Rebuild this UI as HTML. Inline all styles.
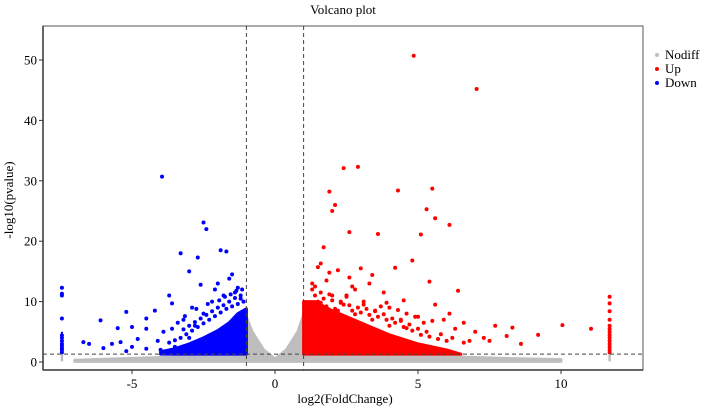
<!DOCTYPE html>
<html><head><meta charset="utf-8"><style>
body{margin:0;background:#fff;}
svg{display:block;font-family:"Liberation Serif",serif;}
</style></head><body>
<svg id="chart" width="708" height="408">
<text x="343" y="14" font-size="13" text-anchor="middle">Volcano plot</text>
<rect x="43" y="26" width="600" height="344" fill="none" stroke="#555" stroke-width="1"/>
<g id="clouds"></g><g id="pts"></g><g id="axes"></g>
<text x="345" y="403" font-size="13" text-anchor="middle">log2(FoldChange)</text>
<text transform="translate(13,200) rotate(-90)" font-size="13" text-anchor="middle">-log10(pvalue)</text>
<g>
<g><circle cx="657" cy="55" r="2" fill="#bebebe"/><text x="665" y="59" font-size="13">Nodiff</text></g>
<g><circle cx="657" cy="69" r="2" fill="#f00"/><text x="665" y="73" font-size="13">Up</text></g>
<g><circle cx="657" cy="83" r="2" fill="#00f"/><text x="665" y="87" font-size="13">Down</text></g>
</g>
</svg>
<script>
const xTicks=[-5,0,5,10];
const yTicks=[0,10,20,30,40,50];
const fcCut=[-1,1];
const pCut=1.3;
const grayCloud=[[-7,0.3],[-5,0.6],[-3,0.9],[-1.5,1.3],[-1.05,8],[-0.8,5],[-0.4,2],[0,0.5],[0.4,2],[0.8,5],[1.05,8.5],[1.5,1.3],[4,1.0],[6,0.9],[8,0.6],[10,0.4],[10,0.1],[0,0.1],[-7,0.1]];
const blueCloud=[[-4.0,1.3],[-1,1.3],[-1,8.8],[-1.3,8],[-1.6,6.5],[-2,5.2],[-2.5,4],[-3,3],[-3.5,2.2],[-4.0,1.7]];
const redCloud=[[1,1.3],[6.5,1.3],[6,2],[5,3],[4,4.5],[3,6.5],[2,8.5],[1.4,10],[1,10]];
const grayCol=[[-7.45,0.1],[-7.45,1.2],[11.7,0.1],[11.7,1.2]];
const upX=[4.85,7.05,2.4,2.9,5.5,4.3,1.9,2.1,2.0,5.3,5.6,6.1,2.6,5.1,3.6,1.7,1.5,1.6,2.2,3.0,4.2,4.8,3.4,6.4,5.4,10.05,11.05,8.3,7.7,9.2,8.1,7.0,6.6,6.1,5.6,4.5,3.8,2.8,1.8,2.5,3.3,1.4,2.0,4.0,5.9,7.3,6.8,5.2,1.3,1.6,2.3,2.7,3.1,3.5,4.6,5.0,6.3,7.5,8.6,3.9,4.4,2.6,1.9,
1.2,1.5,1.8,2.1,2.4,2.7,3.0,3.3,3.6,3.9,4.2,4.5,4.8,5.1,5.4,5.7,6.0,1.4,1.7,2.0,2.3,2.6,2.9,3.2,3.5,3.8,4.1,4.4,4.7,5.0,5.3,5.8,6.2,6.6,1.3,1.9,2.5,3.1,3.7,4.3,4.9,5.5,1.6,2.2,2.8,3.4,4.0,4.6];
const upY=[50.7,45.2,32.1,32.3,28.7,28.4,28.2,26,25,25.3,23.8,22.7,21.5,21.1,21.2,19,15.7,16.3,15.2,15.5,15.6,16.8,14.4,11.8,13.3,6.1,5.5,5.7,6,4.5,4.3,5,6.5,8,9.5,10.2,11.5,12,13.5,11,13,12.5,11,9,7,4,3.5,6.5,13,11.5,10,12.5,9.5,8.5,8,7.5,5.5,3.5,3,9.8,7,14,14.8,
9.5,10,9.2,8.8,9.5,8.5,8.2,7.8,7.5,7,6.5,5.8,5.2,4.5,4.2,3.8,3.5,11,10.5,10.2,9.8,9.4,9,8.8,8.4,7.9,7.2,6.8,6.2,5.5,5,4.6,4,3.2,12,11.2,10.8,10,9.2,8.6,7.5,6.8,9.8,8.5,7.9,7,6,5.6];
const downX=[-3.95,-2.5,-2.4,-3.3,-2.7,-1.9,-1.7,-3.0,-1.5,-2.0,-3.7,-4.2,-5.2,-6.1,-4.5,-3.6,-5.5,-5.0,-4.5,-6.7,-6.5,-5.7,-5.4,-5.0,-4.5,-4.0,-3.5,-6.0,-5.2,-3.0,-2.8,-2.2,-2.5,-1.8,-1.3,-1.6,-2.1,-1.4,-3.2,-3.9,-4.8,-2.9,-1.2,-2.6,-3.4,
-1.1,-1.3,-1.5,-1.7,-1.9,-2.1,-2.3,-2.5,-2.7,-2.9,-3.1,-3.3,-3.5,-3.7,-1.2,-1.4,-1.6,-1.8,-2.0,-2.2,-2.4,-2.6,-2.8,-3.0,-3.2,-1.15,-1.35,-1.55,-1.75,-1.95,-2.35,-2.75,-3.15,-3.6,-4.1];
const downY=[30.7,23.1,22,18,17.3,18.5,18.3,15,14.5,13,11,8.5,8.3,6.9,7.2,9.7,5.6,5.8,5.5,3.3,3,3,3.3,2.5,2.2,2,2.5,2.3,1.8,4,6,10,8,11,12.3,13.8,12,11.5,7,5,3.8,9,10.5,12.8,6.5,
10,9.6,9.2,8.8,8.2,7.6,7,6.4,5.8,5.2,4.6,4,3.6,3.2,11,10.6,10,9.4,9,8.4,7.8,7.2,6.6,6,5.4,12,11.8,11.2,10.8,10.2,9.6,8.8,7.6,5.5,3.5];
const upColX=11.7, upColY=[10.8,9.7,8.4,7,6,5.5,5,4.5,4,3.5,3,2.5,2,1.6];
const downColX=-7.45, downColY=[12.3,11.3,11,7.2,4.4,4,3.5,3,2.7,2.3,2,1.6];

const X=v=>275+v*28.6, Y=v=>362-v*6.04;
const NS='http://www.w3.org/2000/svg';
function mk(t,a,p){const e=document.createElementNS(NS,t);for(const k in a)e.setAttribute(k,a[k]);p.appendChild(e);return e;}
const cl=document.getElementById('clouds'),pts=document.getElementById('pts'),ax=document.getElementById('axes');
function poly(arr,col,name){const e=mk('polygon',{points:arr.map(p=>X(p[0])+','+Y(p[1])).join(' '),fill:col,stroke:col,'stroke-width':3,'stroke-linejoin':'round'},cl);

}
poly(grayCloud,'#bebebe','nodiff-cloud');
poly(blueCloud,'#0000ff','down-cloud');
poly(redCloud,'#ff0000','up-cloud');
for(let i=0;i<grayCol.length;i+=2){const l=mk('line',{x1:X(grayCol[i][0]),x2:X(grayCol[i][0]),y1:Y(grayCol[i][1]),y2:Y(grayCol[i+1][1]),stroke:'#bebebe','stroke-width':2.5},cl);

}
function dot(x,y,c,n){const e=mk('circle',{cx:X(x),cy:Y(y),r:2,fill:c},pts);

}
upX.forEach((x,i)=>dot(x,upY[i],'#f00','up-point'));
downX.forEach((x,i)=>dot(x,downY[i],'#00f','down-point'));
upColY.forEach(y=>dot(upColX,y,'#f00','up-point'));
downColY.forEach(y=>dot(downColX,y,'#00f','down-point'));
mk('line',{x1:X(downColX),x2:X(downColX),y1:Y(pCut),y2:Y(5),stroke:'#00f','stroke-width':2},pts);
mk('line',{x1:X(upColX),x2:X(upColX),y1:Y(pCut),y2:Y(5),stroke:'#f00','stroke-width':2},pts);
fcCut.forEach(v=>{const l=mk('line',{x1:X(v),x2:X(v),y1:26,y2:370,stroke:'#444','stroke-dasharray':'4,3'},ax);

});
const h=mk('line',{x1:43,x2:643,y1:Y(pCut),y2:Y(pCut),stroke:'#444','stroke-dasharray':'4,3'},ax);


mk('line',{x1:43,x2:43,y1:26,y2:370,stroke:'#333','stroke-width':1.5},ax);
mk('line',{x1:43,x2:643,y1:370,y2:370,stroke:'#333','stroke-width':1.5},ax);
xTicks.forEach(v=>{mk('line',{x1:X(v),x2:X(v),y1:370,y2:374,stroke:'#333'},ax);
const t=mk('text',{x:X(v),y:388,'font-size':13,'text-anchor':'middle'},ax);t.textContent=v;

});
yTicks.forEach(v=>{mk('line',{x1:39,x2:43,y1:Y(v),y2:Y(v),stroke:'#333'},ax);
const t=mk('text',{x:37,y:Y(v)+4.5,'font-size':13,'text-anchor':'end'},ax);t.textContent=v;

});
</script>
</body></html>
